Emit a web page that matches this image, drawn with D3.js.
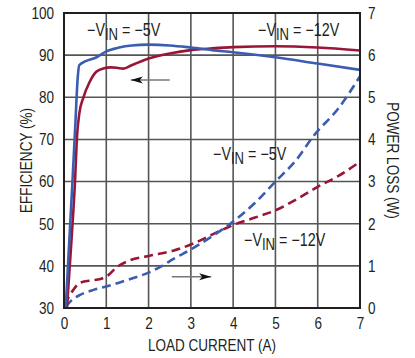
<!DOCTYPE html>
<html><head><meta charset="utf-8">
<script src="https://cdn.jsdelivr.net/npm/d3@7"></script>
<style>
html,body{margin:0;padding:0;background:#fff;}
svg{display:block;}
text{font-family:"Liberation Sans",Arial,sans-serif;fill:#231f20;}
</style></head>
<body>
<svg id="c" width="415" height="358"></svg>
<script>
const xTicks = [0,1,2,3,4,5,6,7];
const effTicks = [30,40,50,60,70,80,90,100];
const lossTicks = [0,1,2,3,4,5,6,7];

const eff5Current = [0.04,0.12,0.2,0.27,0.32,0.36,0.5,0.77,1.0,1.3,1.6,2.0,2.5,3.0,3.5,4.0,5.0,6.0,7.0];
const eff5Value   = [30,45,60,74,84,87.6,88.5,89.5,90.9,91.8,92.3,92.5,92.3,91.8,91.2,90.7,89.5,88.0,86.5];

const eff12Current = [0.07,0.17,0.26,0.31,0.36,0.46,0.6,0.77,0.95,1.1,1.25,1.4,1.6,2.0,2.5,3.0,3.5,4.0,5.0,6.0,7.0];
const eff12Value   = [30,45,60,71,76,80,83.5,86.1,86.9,87.1,87.0,86.8,87.6,89.2,90.4,91.2,91.6,91.9,92.1,91.8,91.1];

const loss5Current = [0.04,0.2,0.38,0.7,1.0,1.3,1.64,2.0,2.3,2.58,3.02,3.5,4.0,4.5,5.0,5.5,5.9,6.5,7.0];
const loss5Value   = [0.03,0.2,0.31,0.43,0.51,0.6,0.71,0.84,0.99,1.16,1.4,1.7,2.05,2.48,3.0,3.52,4.08,4.75,5.5];

const loss12Current = [0.02,0.12,0.22,0.38,0.69,0.9,1.05,1.25,1.48,2.03,2.58,3.06,3.5,4.0,4.5,5.03,5.5,6.01,6.5,7.0];
const loss12Value   = [0.07,0.27,0.43,0.6,0.66,0.7,0.78,0.97,1.1,1.24,1.36,1.53,1.74,1.97,2.14,2.33,2.58,2.88,3.14,3.47];

const BLUE = "#3b5db0", RED = "#9a1636";
const SX = 0.82; // condensed look

const svg = d3.select("#c");
const L=64, R=360, T=13, B=308;
const x = d3.scaleLinear().domain([0,7]).range([L,R]);
const yE = d3.scaleLinear().domain([30,100]).range([B,T]);
const yP = d3.scaleLinear().domain([0,7]).range([B,T]);

// grid
const g = svg.append("g");
g.selectAll("line.v").data(xTicks.slice(1,-1)).join("line")
  .attr("x1",d=>x(d)).attr("x2",d=>x(d)).attr("y1",T).attr("y2",B)
  .attr("stroke","#555").attr("stroke-width",1.6);
g.selectAll("line.h").data(effTicks.slice(1,-1)).join("line")
  .attr("x1",L).attr("x2",R).attr("y1",d=>yE(d)).attr("y2",d=>yE(d))
  .attr("stroke","#555").attr("stroke-width",1.6);

// axes
const fmt = d3.format("d");
const axL = d3.axisLeft(yE).tickValues(effTicks).tickFormat(fmt).tickSize(0).tickPadding(10);
const axR = d3.axisRight(yP).tickValues(lossTicks).tickFormat(fmt).tickSize(0).tickPadding(8);
const axB = d3.axisBottom(x).tickValues(xTicks).tickFormat(fmt).tickSize(0).tickPadding(9);
function style(sel){
  sel.select(".domain").remove();
  sel.selectAll("text").attr("font-size",16.5)
    .style("font-family",'"Liberation Sans",Arial,sans-serif').attr("fill","#231f20")
    .attr("transform",`scale(${SX},1)`)
    .attr("x",function(){ const v=+d3.select(this).attr("x")||0; return v/SX; });
}
svg.append("g").attr("transform",`translate(${L},0)`).call(axL).call(style);
svg.append("g").attr("transform",`translate(${R},0)`).call(axR).call(style);
svg.append("g").attr("transform",`translate(0,${B})`).call(axB).call(style);

// curves
const clipId="clp";
svg.append("clipPath").attr("id",clipId).append("rect").attr("x",L).attr("y",T).attr("width",R-L).attr("height",B-T);
const cg = svg.append("g").attr("clip-path",`url(#${clipId})`);
function draw(xs, ys, yScale, color, dash){
  const data = xs.map((v,i)=>[v,ys[i]]);
  const line = d3.line().x(d=>x(d[0])).y(d=>yScale(d[1])).curve(d3.curveMonotoneX);
  cg.append("path").datum(data).attr("d",line).attr("fill","none")
    .attr("stroke",color).attr("stroke-width",2.6).attr("stroke-dasharray",dash||null);
}
draw(loss12Current, loss12Value, yP, RED, "9,5");
draw(loss5Current, loss5Value, yP, BLUE, "9,5");
draw(eff12Current, eff12Value, yE, RED);
draw(eff5Current, eff5Value, yE, BLUE);

// frame
svg.append("rect").attr("x",L).attr("y",T).attr("width",R-L).attr("height",B-T)
  .attr("fill","none").attr("stroke","#231f20").attr("stroke-width",2);

// arrows
function arrow(x1,x2,y){
  svg.append("line").attr("x1",x1).attr("x2",x2).attr("y1",y).attr("y2",y).attr("stroke","#777").attr("stroke-width",1.5);
  const dir = Math.sign(x2-x1);
  svg.append("path").attr("d",`M${x2},${y} L${x2-dir*12},${y-3.5} L${x2-dir*9},${y} L${x2-dir*12},${y+3.5} Z`).attr("fill","#111");
}
arrow(x(2.5), x(1.58), yE(84.1));
arrow(x(2.55), x(3.48), yP(0.74));

// labels
function vin(xp, yp, val){
  const t = svg.append("text").attr("transform",`translate(${xp},${yp}) scale(${SX},1)`).attr("font-size",17.5);
  t.append("tspan").text("\u2212V");
  t.append("tspan").attr("dy",4).attr("font-size",16).text("IN");
  t.append("tspan").attr("dy",-4).text(" = \u2212"+val);
}
vin(87, 36, "5V");
vin(258, 36, "12V");
vin(213, 160, "5V");
vin(244, 246, "12V");

// axis titles
svg.append("text").attr("transform",`translate(${(L+R)/2},351) scale(${SX},1)`).attr("text-anchor","middle").attr("font-size",16.5).text("LOAD CURRENT (A)");
svg.append("text").attr("transform",`translate(32,${(T+B)/2}) rotate(-90) scale(${SX},1)`).attr("text-anchor","middle").attr("font-size",16.5).text("EFFICIENCY (%)");
svg.append("text").attr("transform",`translate(387,${(T+B)/2}) rotate(90) scale(${SX},1)`).attr("text-anchor","middle").attr("font-size",16.5).text("POWER LOSS (W)");
</script>
</body></html>
